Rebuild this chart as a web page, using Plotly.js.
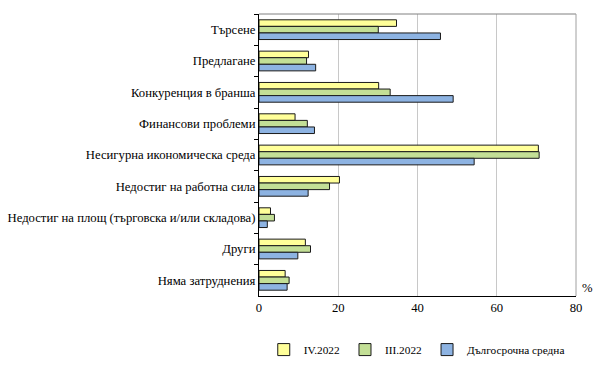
<!DOCTYPE html>
<html>
<head>
<meta charset="utf-8">
<script src="https://cdn.plot.ly/plotly-3.0.1.min.js"></script>
<style>html,body{margin:0;padding:0;background:#fff;}#chart{width:602px;height:376px;}</style>
</head>
<body>
<div id="chart"></div>
<script>
const categories = ["Търсене", "Предлагане", "Конкуренция в бранша", "Финансови проблеми", "Несигурна икономическа среда", "Недостиг на работна сила", "Недостиг на площ (търговска и/или складова)", "Други", "Няма затруднения"];
const seriesNames = ["IV.2022", "III.2022", "Дългосрочна средна"];
const valuesIV2022 = [34.7, 12.5, 30.2, 9.1, 70.5, 20.3, 2.9, 11.7, 6.6];
const valuesIII2022 = [30.1, 12.0, 33.1, 12.2, 70.7, 17.8, 3.9, 13.0, 7.6];
const valuesLongTerm = [45.8, 14.3, 49.0, 14.0, 54.3, 12.4, 2.1, 9.8, 7.1];
const xTicks = [0, 20, 40, 60, 80];

const font = "Liberation Serif, serif";
function mk(name, vals, color) {
  return {type: "bar", orientation: "h", name: name, x: vals, y: categories,
    marker: {color: color, line: {color: "#1a1a1a", width: 1}}};
}
const traces = [
  mk(seriesNames[0], valuesIV2022, "#ffff99"),
  mk(seriesNames[1], valuesIII2022, "#c3df96"),
  mk(seriesNames[2], valuesLongTerm, "#8db3e2")
];
const layout = {
  width: 602, height: 376,
  margin: {l: 259, r: 26, t: 14, b: 54},
  paper_bgcolor: "#fff", plot_bgcolor: "#fff",
  font: {family: font, size: 12.7, color: "#000"},
  barmode: "group", bargap: 0.37, bargroupgap: 0,
  showlegend: true,
  legend: {orientation: "h", x: 0.015, xanchor: "left", y: -0.19, yanchor: "middle",
    font: {family: font, size: 11.3}, itemwidth: 30},
  xaxis: {range: [0, 80], tickvals: xTicks, showgrid: true, gridcolor: "#c8c8c8", gridwidth: 1,
    zeroline: false, showline: true, linecolor: "#000", linewidth: 1, ticks: "",
    tickfont: {family: font, size: 12.7}, fixedrange: true},
  yaxis: {type: "category", autorange: "reversed", showline: true, linecolor: "#000", linewidth: 1,
    ticks: "outside", ticklen: 4, tickcolor: "#000", tickson: "boundaries", showgrid: false,
    tickfont: {family: font, size: 12.7}, fixedrange: true},
  shapes: [
    {type: "line", xref: "paper", yref: "paper", x0: 0, x1: 1, y0: 1, y1: 1, line: {color: "#808080", width: 1}},
    {type: "line", xref: "paper", yref: "paper", x0: 1, x1: 1, y0: 0, y1: 1, line: {color: "#a0a0a0", width: 1}}
  ],
  annotations: [
    {text: "%", xref: "paper", yref: "paper", x: 1, y: 0.03, xanchor: "left", yanchor: "middle", xshift: 4,
     showarrow: false, font: {family: font, size: 12.7}}
  ]
};
Plotly.newPlot("chart", traces, layout, {displayModeBar: false, staticPlot: true});
</script>
</body>
</html>
